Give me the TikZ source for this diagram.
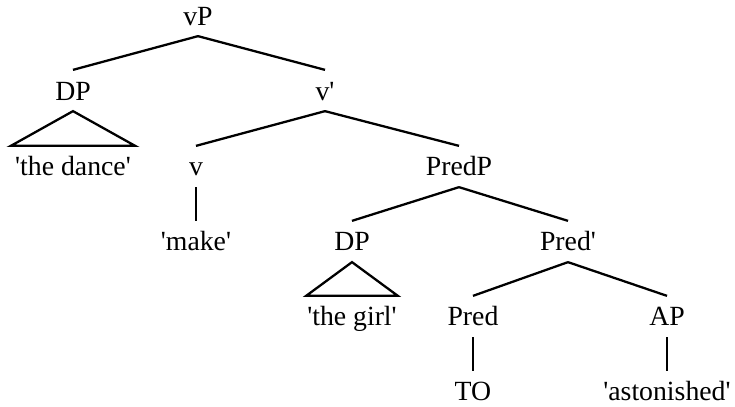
\documentclass[tikz,border=0pt]{standalone}
\usepackage{fontspec}
\setmainfont{Liberation Serif}[Ligatures=TeXOff]
\usepackage{tikz}

\begin{document}
\begin{tikzpicture}[
    line width=0.65pt,
    lbl/.style={anchor=base, inner sep=0pt, text height=0.29cm, text depth=0.10cm,
        font=\fontsize{7.9}{9}\selectfont}
]
    \useasboundingbox (0,0) rectangle (7.35,-4.07);

    \node [lbl] (vP) at (1.98,-0.25) {vP};
    \node [lbl] (DPa) at (0.73,-1.00) {DP};
    \node [lbl] (vbar) at (3.25,-1.00) {v'};
    \node [lbl, minimum width=1.22cm] (dance) at (0.73,-1.76) {'the dance'};
    \node [lbl] (v) at (1.96,-1.76) {v};
    \node [lbl] (PredP) at (4.59,-1.76) {PredP};
    \node [lbl] (make) at (1.96,-2.51) {'make'};
    \node [lbl] (DPb) at (3.52,-2.51) {DP};
    \node [lbl] (Predbar) at (5.68,-2.51) {Pred'};
    \node [lbl] (girl) at (3.52,-3.26) {'the girl'};
    \node [lbl] (Pred) at (4.73,-3.26) {Pred};
    \node [lbl] (AP) at (6.67,-3.26) {AP};
    \node [lbl] (TO) at (4.73,-4.01) {TO};
    \node [lbl, minimum width=1.41cm] (aston) at (6.67,-4.01) {'astonished'};

    % branches
    \draw (vP.south) -- (DPa.north);
    \draw (vP.south) -- (vbar.north);
    \draw (vbar.south) -- (v.north);
    \draw (vbar.south) -- (PredP.north);
    \draw (v.south) -- (make.north);
    \draw (PredP.south) -- (DPb.north);
    \draw (PredP.south) -- (Predbar.north);
    \draw (Predbar.south) -- (Pred.north);
    \draw (Predbar.south) -- (AP.north);
    \draw (Pred.south) -- (TO.north);
    \draw (AP.south) -- (aston.north);

    % triangles
    \draw (DPa.south) -- (dance.north west) -- (dance.north east) -- cycle;
    \draw (DPb.south) -- (girl.north west) -- (girl.north east) -- cycle;
\end{tikzpicture}
\end{document}
